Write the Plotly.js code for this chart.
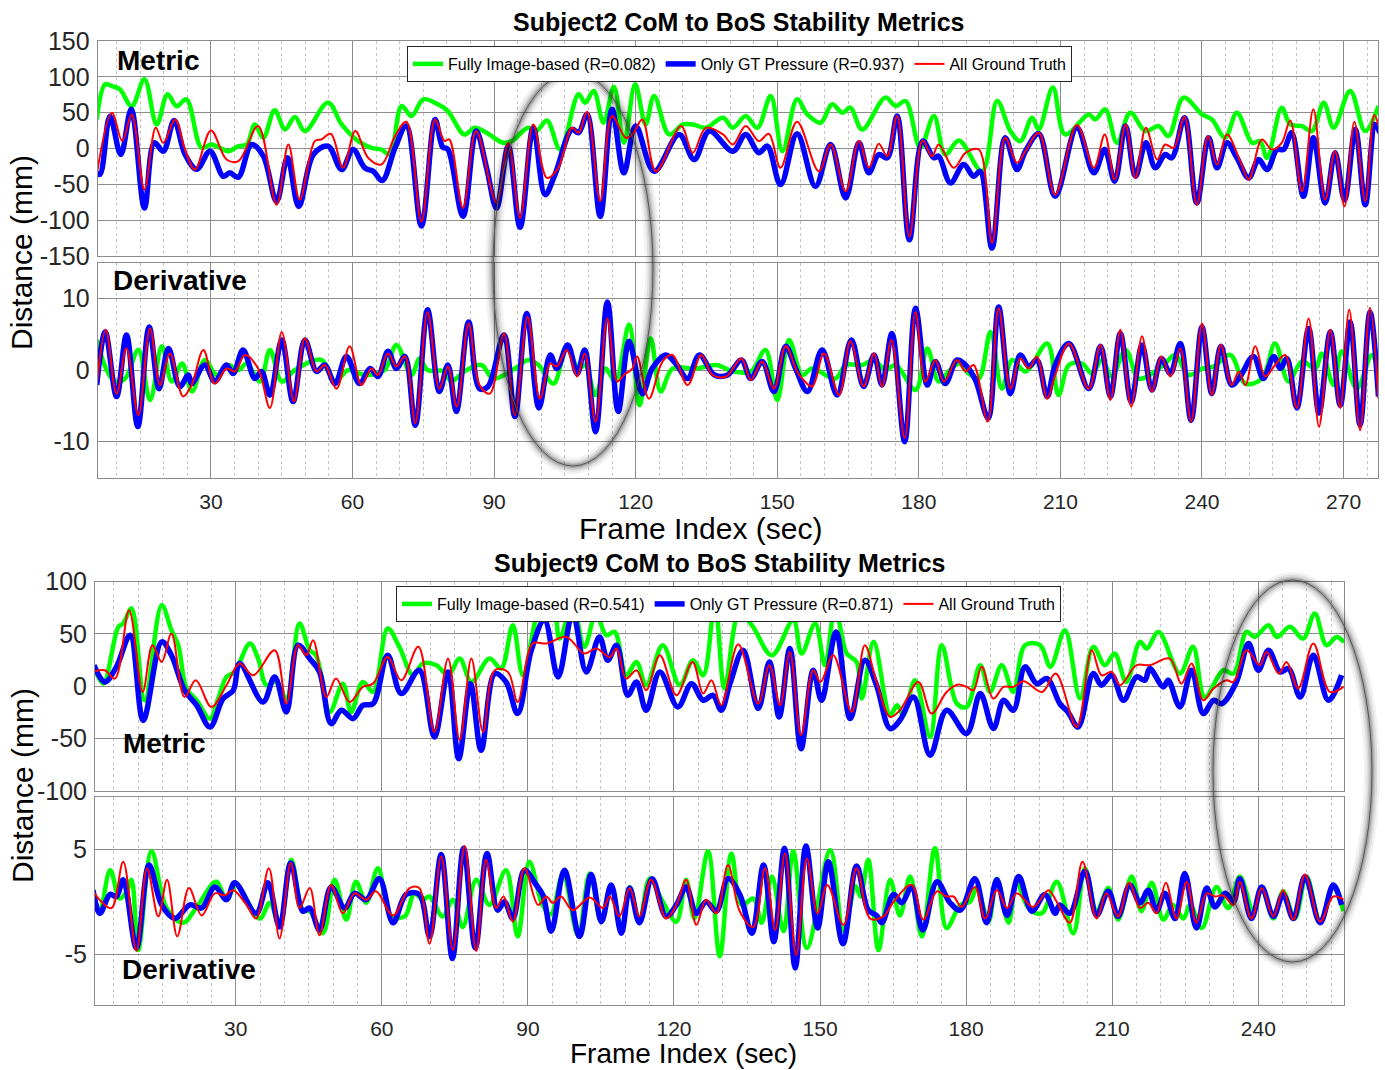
<!DOCTYPE html>
<html><head><meta charset="utf-8">
<script src="https://cdn.plot.ly/plotly-3.0.1.min.js"></script>
<style>html,body{margin:0;padding:0;background:#fff;}#chart{width:1385px;height:1070px;}</style>
</head><body><div id="chart"></div>
<script>
// ---------- DATA (x = frame index, y = value) ----------
const names = ["Fully Image-based", "Only GT Pressure", "All Ground Truth"];
const s2R = ["0.082", "0.937"];
const s9R = ["0.541", "0.871"];
const titles = ["Subject2 CoM to BoS Stability Metrics", "Subject9 CoM to BoS Stability Metrics"];
const xTicks2 = [30,60,90,120,150,180,210,240,270];
const xTicks9 = [30,60,90,120,150,180,210,240];

// Subject2 metric
const s2MetricImg = [[5.8,40.6],[7.6,89.7],[9.0,87],[10.7,82.7],[13.2,59],[15.9,96.7],[18.5,33.6],[20.8,75.7],[22.7,59],[24.8,68.6],[28.0,1],[30.1,5.6],[33.7,-3.7],[35.8,3.3],[37.6,5.6],[39.3,33.6],[41.1,15],[43.5,53.2],[45.7,26.6],[47.8,43.9],[49.9,24.3],[54.8,64],[57.7,33.6],[61.2,10.3],[64.0,1],[66.1,-1.4],[67.9,-8.4],[70.4,59.3],[72.5,45.3],[75.0,68.6],[78.1,61.6],[80.2,52.3],[83.7,19.6],[85.9,29],[88.4,22],[91.9,8],[93.7,10.3],[97.2,29],[99.0,24.3],[101.2,39.2],[104.0,-1.4],[107.9,75.7],[109.3,64],[111.1,80.3],[113.2,36],[115.4,86],[117.5,8],[119.9,89.7],[122.1,33.6],[123.9,73.3],[127.1,19.6],[130.0,33.6],[132.1,33.6],[134.9,29],[138.5,43],[140.6,29],[143.3,45.3],[145.8,29],[148.6,73.3],[151.1,-3.7],[154.2,68.6],[156.4,47.6],[159.2,36],[161.6,61.6],[163.8,50],[165.5,57],[168.0,26.6],[172.9,71],[175.1,59.3],[177.2,66.3],[180.3,1],[183.2,45.3],[185.6,-8.4],[188.5,11.2],[193.4,-31.8],[196.6,66.3],[199.4,24.3],[201.5,10.3],[204.0,43],[205.4,26.6],[208.4,85],[211.0,19.6],[216.0,47.6],[217.4,40.6],[219.5,54.6],[222.0,8],[224.8,50],[228.0,24.3],[230.8,31.3],[232.9,17.3],[236.1,71],[240.0,47.6],[242.1,40.6],[244.9,15],[247.4,50],[250.6,8],[252.3,10.3],[253.8,-13],[256.9,57],[258.7,33.6],[261.2,31.3],[263.3,24.3],[265.8,64],[267.9,29],[271.4,80.3],[274.6,24.3],[277.4,59.3]];
const s2MetricPress = [[5.8,-34],[6.5,-36],[8.6,45],[10.9,-8.4],[13.1,54.6],[15.9,-83],[18.0,8],[19.9,-3.7],[22.2,39],[24.5,-8],[27.0,-29],[29.8,-3.7],[32.6,-38.8],[34.0,-34],[35.8,-40],[38.6,5.6],[41.1,-10.7],[43.9,-73.8],[46.2,-13],[48.6,-80.8],[51.7,-8.4],[54.8,3.3],[57.7,-29.4],[60.1,-1.4],[62.6,-27],[64.4,-31.8],[66.3,-44.8],[69.0,1],[71.4,31.3],[74.6,-108],[77.5,40.6],[79.1,2],[80.2,-1],[83.4,-94.8],[86.2,24.3],[88.4,-27],[90.5,-83],[93.0,3.3],[95.5,-110],[98.3,29],[100.8,-64.4],[102.9,-36.4],[106.5,26.6],[107.9,22],[109.7,47.6],[112.5,-94.8],[115.0,54.6],[117.5,-34],[120.0,31.3],[123.9,-31.8],[129.2,19.6],[132.4,-15.4],[135.6,24.3],[140.6,-3.7],[143.3,19.6],[146.1,-6],[147.9,3.3],[150.7,-50.4],[154.2,20.5],[158.1,-52.8],[161.3,5.6],[164.5,-69],[167.3,8],[169.4,-34],[171.5,-8.4],[173.3,-13],[175.4,45.3],[178.0,-127.5],[180.8,10.3],[183.2,-13],[184.2,-10.7],[186.7,-48],[189.5,-22.4],[191.6,-38.8],[193.0,-31.8],[195.5,-139],[198.3,15],[200.8,-29.4],[202.6,-3.7],[205.4,20.5],[208.9,-66.8],[213.5,29],[217.1,-34],[219.4,-1.4],[221.5,-45.8],[223.8,31.3],[225.9,-38.8],[228.1,8],[230.1,-27],[232.2,-8.4],[233.6,-13],[236.3,43],[238.9,-76],[241.4,15],[243.2,-27],[245.3,8],[247.4,-13],[249.9,-41],[252.0,-15.4],[253.8,-29.4],[255.9,-1.4],[257.3,-1.4],[259.0,22],[261.5,-66.8],[263.6,15],[266.1,-76],[268.2,-6],[270.2,-71.5],[272.5,26.6],[274.6,-78.5],[276.7,33.6],[277.7,22]];
const s2MetricGT = [[5.8,-36],[9.0,50],[11.2,10.3],[13.2,47.6],[15.9,-57.4],[18.3,29],[19.9,8],[22.4,40.6],[24.5,-1.4],[26.6,-29.4],[30.0,25.2],[33.3,-15.4],[35.8,-17.7],[40.0,31.3],[43.9,-78.5],[46.4,5.6],[48.8,-71.5],[52.0,10.3],[53.4,12.6],[55.4,20.5],[58.0,-27],[60.6,24.3],[63.3,-13],[66.1,-22.4],[69.0,17.3],[71.4,37.4],[74.6,-102],[77.5,40.6],[79.5,10.3],[80.5,12.6],[83.4,-83],[86.2,24.3],[90.5,-76],[93.0,8],[95.5,-97],[98.3,33.6],[101.2,-41],[103.6,-27],[106.5,29],[107.9,22],[109.7,51.4],[112.5,-73.8],[115.0,45.3],[117.9,15],[119.3,19.6],[121.4,40.6],[124.3,-31.8],[129.6,31.3],[132.1,-6],[134.9,29],[138.5,19.6],[140.6,5.6],[143.3,31.3],[146.1,10.3],[148.2,20.5],[150.7,-27],[154.2,37.4],[158.8,-31.8],[161.3,5.6],[164.5,-59.8],[167.3,10.3],[169.4,-27],[171.5,6.5],[173.3,-10.7],[175.4,45.3],[178.0,-122.8],[180.8,11.2],[182.8,-10.7],[184.2,5.6],[187.4,-27],[189.9,-6],[192.7,-1.4],[195.5,-132],[198.3,15],[200.8,-20],[202.6,-3.7],[205.4,22],[208.9,-64.4],[213.5,32.7],[217.1,-27],[219.4,19.6],[221.5,-43.4],[223.8,33.6],[225.9,-41],[228.1,29],[230.5,-15.4],[232.2,5.6],[234.0,0.9],[236.3,43.9],[238.9,-78.5],[241.3,17.3],[243.2,-22.4],[245.3,19.6],[248.1,-17.7],[249.9,-43.4],[252.7,12.6],[254.8,-1.4],[256.9,7.9],[258.7,39.2],[261.2,-59.8],[263.6,54.6],[266.1,-71.5],[268.2,-3.7],[270.2,-80.8],[272.3,37.4],[274.6,-73.8],[276.5,46.7],[277.7,24.3]];

// Subject2 derivative
const s2DerivImg = [[5.8,4.2],[7.9,0],[9.7,-1.6],[11.8,-1.2],[14.6,2.8],[17.1,-4.2],[19.6,3.3],[21.7,-1.6],[23.9,0.9],[26.0,-3],[28.7,1.4],[31.2,-0.7],[33.7,0.7],[35.8,0],[37.6,0.9],[40.4,-1.6],[42.5,2.8],[45.0,-1.6],[47.8,0],[53.4,1.4],[56.3,-1.6],[59.1,0],[62.6,-0.7],[66.8,0],[69.3,3.5],[72.5,-0.7],[74.2,1.6],[75.9,0],[79.5,-0.2],[80.9,-1.6],[83.7,-0.2],[87.3,0.7],[89.8,-1.2],[94.4,0.2],[97.2,1.4],[99.4,0.7],[102.6,-1.9],[105.4,3],[107.9,0.2],[109.3,0.7],[111.5,-3.5],[113.6,0.2],[115.7,-1.6],[118.6,6.3],[120.8,-4.9],[123.2,4.4],[125.3,-3],[127.8,0.2],[132.8,0.2],[137.1,0.7],[140.6,-0.2],[144.4,-0.2],[147.5,2.8],[150.0,-4.2],[152.5,4.2],[155.3,-0.7],[157.4,0.2],[162.3,-1.2],[164.5,0.7],[168.0,0.7],[170.5,1.4],[172.9,0],[175.1,0.7],[179.3,-2.8],[181.8,3],[184.2,-1.6],[186.3,-0.2],[188.5,0.9],[190.6,-0.5],[192.7,-1.2],[195.2,5.3],[197.6,-2.6],[199.8,1.4],[202.6,-0.2],[207.2,3.7],[209.6,-3.5],[211.8,0.7],[214.6,0.9],[216.7,-0.5],[218.8,1.4],[220.9,-0.9],[223.8,2.8],[226.6,-1.2],[229.4,-0.5],[232.2,0.9],[234.3,2.1],[237.2,-0.7],[240.0,0.2],[242.5,0.5],[246.0,2.1],[249.2,-1.9],[252.7,-1.2],[255.5,3.7],[258.3,-1.6],[261.2,1.2],[264.0,0.2],[265.4,2.3],[267.9,-2.1],[269.6,2.6],[272.8,-2.6],[276.0,2.1],[277.4,-0.2]];
const s2DerivPress = [[5.8,-2.1],[7.6,5.3],[10.0,-3.7],[12.1,4.9],[14.5,-7.9],[16.9,6],[19.0,-2.6],[21.0,3],[23.4,-2.3],[25.2,-0.7],[25.9,-1.9],[28.7,0.7],[30.8,-1.6],[33.3,0.7],[34.7,-0.5],[36.8,2.8],[39.3,-1.2],[40.7,-0.2],[42.5,-3.5],[45.0,4.2],[47.4,-4.4],[49.9,4.2],[52.4,-0.2],[54.1,0.7],[56.3,-1.9],[58.7,1.9],[61.5,-1.9],[63.7,0.2],[65.4,-0.9],[67.5,2.6],[69.3,0.2],[71.1,1.9],[73.3,-7.7],[75.9,8.4],[78.4,-3],[80.2,0.7],[82.0,-5.8],[84.6,6.7],[86.9,-2.6],[88.7,-2.3],[92.1,4.9],[94.4,-6.5],[96.9,7.9],[99.5,-5.3],[101.9,2.1],[103.3,0.2],[105.6,3.5],[107.6,-0.5],[109.2,2.8],[111.5,-8.6],[114.0,9.5],[116.3,-5.8],[118.6,4],[121.4,-3.3],[123.5,0.2],[126.4,2.1],[128.5,0.9],[131.0,-1.2],[133.5,2.1],[136.7,-0.7],[139.5,-0.7],[142.4,1.4],[144.4,-1.2],[146.8,1.2],[149.3,-3],[151.8,3.3],[153.9,0.2],[156.4,-3],[159.5,2.8],[162.7,-3.5],[165.7,4.2],[168.3,-2.3],[170.5,2.1],[172.2,-2.1],[174.3,5.1],[177.0,-10],[179.3,8.6],[181.8,-2.1],[183.5,1.2],[185.6,-1.9],[188.1,1.4],[189.9,0.7],[192.0,-1.4],[194.7,-6.7],[196.9,8.8],[199.4,-3.3],[201.5,2.1],[203.3,0.5],[205.0,1.4],[207.2,-3.7],[208.9,0.7],[211.8,3.7],[216.0,-2.6],[218.5,3.3],[220.6,-3.7],[222.7,5.1],[225.0,-4.4],[227.3,3.5],[229.4,-2.8],[231.4,1.6],[233.3,-0.5],[235.4,3.7],[237.7,-7],[240.0,6],[242.1,-3.3],[244.0,3.3],[246.3,-2.1],[248.1,-0.9],[250.9,1.9],[253.0,-1.2],[255.2,1.9],[256.6,0.2],[258.0,1.6],[260.1,-5.3],[262.6,5.8],[264.8,-6],[267.2,5.3],[269.3,-4.9],[271.4,6.7],[273.5,-7.7],[275.6,8.1],[277.4,-3.7]];
const s2DerivGT = [[5.8,-2.1],[7.7,5.6],[10.0,-3.3],[12.1,3],[14.6,-6.3],[17.1,5.8],[19.2,-2.1],[21.3,2.3],[24.1,-3.7],[25.9,-2.1],[28.4,2.8],[30.8,-1.9],[33.3,0.2],[35.1,-0.2],[37.2,2.1],[40.0,0.2],[42.5,-5.3],[45.0,5.3],[47.6,-4.4],[49.9,4.4],[52.4,-0.2],[54.1,0.7],[56.6,-2.6],[59.4,3.3],[61.9,-2.1],[64.0,0.2],[65.4,-0.7],[67.5,2.3],[69.3,0.5],[71.1,1.9],[73.3,-7.4],[75.9,8.1],[78.4,-2.6],[80.2,0.5],[82.1,-5.1],[84.6,6.5],[86.9,-2.1],[89.1,-3.3],[92.1,5.1],[94.4,-6.3],[97.1,7.4],[99.7,-4],[101.9,0.9],[103.3,0.5],[105.4,2.8],[107.6,-0.9],[109.2,2.3],[111.5,-7.2],[114.0,7.2],[116.1,-1.6],[117.5,-0.7],[119.3,0.2],[120.3,1.9],[122.8,-4],[125.7,1.2],[127.8,2.1],[131.0,-2.1],[133.9,2.1],[136.3,-0.7],[139.2,-0.9],[142.4,1.6],[144.4,-1.4],[146.8,1.2],[149.3,-2.6],[151.8,3.3],[154.2,-0.2],[155.3,-1.2],[157.4,-2.3],[159.9,2.3],[163.1,-3.5],[165.5,4],[168.3,-2.3],[170.5,2.3],[172.2,-2.3],[174.2,4.2],[177.0,-9.5],[179.3,8.1],[181.4,-1.6],[183.5,1.4],[185.3,-1.6],[188.1,1.4],[189.9,-0.2],[191.6,0.7],[194.6,-7.2],[196.9,8.6],[199.4,-2.6],[201.5,1.6],[203.3,0.2],[205.0,1.9],[207.2,-4],[208.9,-0.7],[211.8,3.7],[216.0,-2.6],[218.5,3.5],[220.6,-4.2],[222.7,5.6],[225.0,-5.1],[227.3,4.7],[229.4,-3],[231.4,1.9],[233.3,-0.9],[235.4,3],[237.7,-7.2],[240.0,6.5],[242.1,-3.5],[244.0,3.5],[246.3,-2.1],[247.8,-0.2],[249.2,-2.1],[251.3,3.3],[253.4,-0.9],[255.5,0.7],[257.6,2.1],[260.1,-5.3],[262.6,7.2],[264.8,-7.9],[267.2,5.6],[269.3,-5.3],[271.2,8.4],[273.5,-8.4],[275.6,8.7],[277.4,-4]];

// Subject9 metric
const s9MetricImg = [[0.9,18.5],[2.8,2.5],[5.9,56.7],[6.9,60],[8.6,74.2],[11.3,-13.4],[14.8,77.4],[16.8,53.5],[18.2,39.2],[19.9,-2.2],[22.0,-13.4],[24.7,-30.9],[26.4,-11.8],[28.1,8.9],[29.8,13.7],[32.9,40.8],[34.6,26.4],[36.3,1],[38.3,4.1],[40.4,-11.8],[43.1,59.9],[45.2,34.4],[46.5,29.6],[49.3,-24.5],[52.0,2.5],[53.7,-24.5],[56.1,4.1],[58.2,-5.4],[61.2,55.1],[63.6,37.6],[66.4,10.5],[68.4,21.7],[71.2,20.1],[73.6,10.5],[76.0,26.4],[78.4,4.1],[82.1,26.4],[84.5,16.9],[86.9,58.3],[89.0,10.5],[92.7,75.8],[95.1,77.1],[96.5,45.5],[99.2,77.1],[101.6,37.6],[104.0,69.4],[106.1,48.7],[107.8,51.9],[110.2,10.5],[112.3,23.2],[114.3,1],[117.7,39.2],[121.2,1],[123.9,24.8],[126.0,10.5],[128.4,79],[130.4,-2.2],[133.4,69.4],[136.0,58.3],[140.1,29.6],[144.5,63.1],[146.2,31.2],[149.0,59.9],[151.0,20.1],[153.1,74.2],[155.5,31.2],[157.5,23.2],[158.6,-11.8],[161.0,42.4],[164.4,-27.7],[165.8,-18.2],[167.1,-27.7],[169.5,5.7],[172.6,-48.4],[175.0,39.2],[178.1,-16.6],[180.1,-19.7],[182.9,20.1],[184.9,-5.4],[187.3,20.1],[189.7,-5.4],[192.1,39.2],[195.2,39.2],[197.3,18.5],[200.3,53.5],[203.4,-11.8],[206.1,37.6],[208.5,20.1],[210.5,31.2],[212.9,4.1],[215.7,42.4],[217.1,36],[219.5,51.9],[223.9,12.1],[226.6,37.6],[229.0,-10.2],[232.8,15.3],[234.9,12.1],[237.6,51.9],[239.3,47.1],[242.1,58.3],[243.8,47.1],[246.5,56.7],[249.2,45.5],[251.6,69.4],[254.0,39.2],[256.1,47.1],[257.6,42]];
const s9MetricPress = [[0.9,20.1],[3.1,4.1],[5.5,18.5],[8.3,48.7],[11.0,-32.5],[14.8,42.4],[16.8,29.6],[19.5,-3.8],[22.0,-18.2],[24.7,-38.9],[27.4,-11.8],[29.5,-3.8],[30.8,21.7],[35.6,-15],[38.0,8.9],[40.4,-24.5],[42.8,39.2],[45.2,26.4],[47.2,13.7],[49.6,-35.7],[51.7,-22.9],[54.1,-30.9],[56.1,-18.2],[58.2,-16.6],[61.2,29.6],[64.0,-7],[67.7,15.3],[70.8,-48.4],[73.6,13.7],[75.8,-69.1],[78.2,2.5],[80.4,-61.1],[83.2,12.1],[85.5,4.1],[87.9,-26.1],[90.7,34.4],[93.4,63.1],[96.2,8.9],[99.2,69.4],[102.0,13.7],[104.7,47.1],[106.4,24.8],[108.2,39.2],[110.5,-8.6],[112.3,4.1],[114.3,-22.9],[117.1,13.7],[120.8,-19.7],[123.6,2.5],[126.0,-13.4],[128.0,-8.6],[129.7,-22.9],[131.5,2.5],[134.2,34.4],[137.3,-21.3],[139.6,23.2],[141.6,-29.3],[143.8,36],[146.1,-59.6],[148.6,15.3],[150.3,-13.4],[153.3,51.9],[156.2,-30.9],[159.2,24.8],[161.6,1],[164.4,-40.4],[166.4,-32.5],[169.2,-10.2],[172.6,-65.9],[176.0,-22.9],[180.1,-45.2],[182.9,-7],[185.6,-40.4],[187.7,-13.4],[189.7,-22.9],[192.1,18.5],[194.5,2.5],[196.6,7.3],[199.3,-17],[200.9,-24.5],[203.0,-38.9],[206.1,12.1],[207.8,1],[209.9,10.5],[212.3,-13.4],[215.0,8.9],[216.7,5.7],[217.7,16.9],[220.5,-0.6],[221.5,5.7],[223.9,-19.7],[226.3,15.3],[228.7,-26.1],[230.8,-13.4],[232.5,-16.6],[235.5,4.1],[238.0,40.8],[240.0,15.3],[242.1,34.4],[244.5,13.7],[246.2,16.9],[248.6,-10.2],[251.3,29.6],[254.4,-13.4],[257.1,10.5]];
const s9MetricGT = [[0.7,13.7],[3.1,15.3],[5.2,7.3],[8.1,72.6],[10.9,-5.4],[12.9,39.2],[14.8,23.2],[16.8,50.3],[19.5,-10.2],[21.8,5.7],[25.0,-19.7],[28.1,1],[30.8,21.7],[33.6,10.5],[38.0,34.4],[40.4,-16.6],[42.8,39.2],[44.5,29.6],[45.9,43.9],[48.6,-10.2],[50.6,7.3],[53.4,-15],[56.1,-0.6],[58.2,2.5],[61.2,28],[64.0,5.7],[67.5,37.6],[70.8,-43.6],[73.6,26.4],[76.0,-51.6],[78.4,26.4],[80.8,-43.6],[83.2,15.3],[85.9,13.7],[87.9,-15],[91.0,40.8],[93.8,40.8],[97.9,47.1],[101.6,31.2],[104.0,36],[106.8,28],[108.2,36],[110.2,7.3],[112.3,15.3],[114.3,-3.8],[117.1,29.6],[120.5,-8.6],[123.8,23.2],[126.0,-7],[127.7,5.7],[129.7,-18.2],[133.2,40],[137.3,-16.6],[139.6,20.1],[141.8,-18.2],[143.8,32.8],[146.1,-46.8],[148.6,15.3],[150.1,4.1],[152.7,29.6],[156.5,-24.5],[159.2,39.2],[161.6,4.1],[164.4,-29.3],[166.4,-22.9],[170.2,4.1],[172.9,-26.1],[176.0,-5.4],[178.4,1.6],[180.1,-0.6],[181.5,-3.8],[183.2,18.5],[185.6,-11.8],[187.7,-0.6],[189.7,-0.6],[191.8,4.8],[195.6,-5.4],[198.4,12.1],[202.7,-38.9],[205.8,34.4],[207.8,10.5],[209.9,13.7],[211.6,1],[215.0,20.1],[217.7,20.1],[221.8,26.4],[224.2,2.5],[226.3,21.7],[228.7,-13.4],[230.8,-2.2],[233.5,5.7],[234.9,4.1],[237.6,34.4],[240.3,20.1],[241.7,32.8],[244.2,12.1],[245.8,23.2],[248.2,-2.2],[251.3,40.8],[254.7,-5.4],[257.5,-0.6]];

// Subject9 derivative
const s9DerivImg = [[0.7,1],[2.1,-0.9],[4.2,3],[6.2,0.3],[7.6,1],[8.6,2.1],[10.0,-4.6],[12.7,4.8],[15.8,-0.6],[19.2,-2],[22.0,-0.5],[26.0,1.9],[28.1,0.2],[30.1,1.6],[34.9,-1.6],[37.0,-0.1],[39.0,-2.2],[41.4,4],[43.8,-0.8],[45.2,-0.9],[47.9,-3],[50.3,2.1],[52.7,-1.7],[54.7,1.9],[56.8,-0.1],[59.2,3.2],[61.9,-1.3],[64.7,-1.4],[66.7,0.8],[68.4,0.2],[69.8,0.5],[72.5,-1.4],[74.6,0.2],[76.6,-2.4],[79.4,2.1],[82.1,-0.3],[85.5,3],[87.9,-3.3],[90.3,3.8],[93.0,-0.3],[94.7,-1.2],[97.2,2.6],[100.3,-3.2],[102.7,2.7],[105.1,-1.9],[107.1,1.6],[109.2,-2.8],[110.9,1.4],[112.9,-1.9],[115.0,2.2],[117.7,0],[120.5,-1.9],[122.5,2.1],[124.2,-1.6],[127.0,4.8],[129.4,-5.2],[131.8,4.6],[133.9,-0.3],[136.3,0.3],[138.0,-2],[140.1,2.4],[142.5,-2.8],[144.5,4.8],[147.3,-4.4],[152.1,4.9],[154.8,-2.8],[157.3,1.5],[158.3,0.5],[159.9,4],[162.0,-4.6],[164.4,2.1],[166.4,-1.3],[168.5,2.4],[170.9,-3.3],[173.6,5.1],[176.0,-2.5],[178.8,-0.3],[180.8,0],[182.2,1.3],[184.6,-1.9],[186.3,2.2],[188.7,-2],[190.4,1.8],[192.8,-0.6],[195.5,-1.1],[198.6,1.9],[202.0,-3],[204.4,3.2],[206.8,-0.9],[209.2,1.3],[211.2,-1.7],[214.0,2.4],[216.0,-0.9],[218.1,1.8],[220.5,-1.7],[222.5,-0.3],[224.6,-1.6],[226.0,-0.3],[228.4,-2.5],[231.4,1.4],[233.8,-0.6],[236.2,2.4],[239.0,-0.9],[240.7,1.4],[243.1,-1.6],[245.1,1],[247.5,-1.6],[249.9,2.4],[252.7,-1.9],[255.4,1.4],[257.5,-0.9]];
const s9DerivPress = [[0.7,1.1],[2.1,-1.1],[4.2,0.7],[5.5,0.5],[6.9,2.1],[9.6,-4.4],[12.2,3.5],[14.8,-0.3],[17.5,-1.6],[20.6,-0.3],[23.0,-0.6],[25.7,1.4],[28.1,0.2],[29.8,1.8],[34.2,-1.1],[36.6,1.8],[39.0,-2.4],[41.3,3.7],[43.8,-0.9],[45.2,-0.6],[47.2,-2.7],[49.6,1.4],[52.4,-0.6],[54.4,0.8],[56.8,0.2],[59.5,2.2],[62.3,-2],[65.0,0.7],[67.7,0.7],[69.8,-3.3],[72.2,4.5],[74.5,-5.4],[76.8,5.1],[79.2,-4.4],[81.6,4.6],[83.8,-0.8],[85.2,0],[86.9,-1.6],[89.3,3],[91.7,1.6],[93.1,0.6],[94.8,-2.8],[97.5,3],[100.6,-3.3],[103.0,2.6],[105.1,-1.9],[107.1,1.6],[109.2,-3],[110.9,1.3],[112.9,-2],[115.5,2.2],[118.4,-1.4],[120.5,-0.3],[122.5,1.4],[124.6,-1.1],[126.6,0],[128.7,-0.9],[131.1,2.2],[133.6,0.6],[136.0,-3],[138.4,3.5],[140.5,-3.8],[142.7,5.1],[144.9,-6.3],[147.1,5.3],[149.5,-2.5],[151.7,3.8],[154.7,-4],[157.5,3.4],[159.9,-0.8],[161.6,-1.3],[162.7,-2],[165.1,0.7],[166.8,-0.1],[168.8,1.4],[171.1,-2.7],[174.0,1.9],[176.7,-0.1],[178.8,-0.8],[181.8,2.2],[184.2,-2],[186.3,2.1],[188.4,-1.3],[190.8,2.4],[193.5,-0.9],[196.2,0.7],[198.3,-1.1],[199.2,-0.3],[201.3,-1.1],[204.4,2.9],[206.8,-1.3],[209.2,1],[211.2,-1.4],[213.6,1.6],[215.7,-0.1],[217.4,1.1],[219.1,-0.9],[220.8,0.8],[222.9,-1.6],[224.9,2.7],[227.3,-2.5],[229.4,1.3],[231.1,-0.5],[233.2,0.8],[234.9,0],[236.2,2.2],[238.6,-1.6],[240.7,1.4],[243.1,-1.4],[245.1,0.7],[247.2,-1.6],[249.6,2.4],[252.7,-2],[255.4,1.6],[257.1,-0.3]];
const s9DerivGT = [[0.7,1],[2.4,0],[4.5,-0.6],[6.9,3.8],[9.6,-4.7],[11.8,3.2],[14.1,-1.4],[15.9,2.1],[18.0,-3.3],[20.4,1.3],[23.0,-1.3],[25.7,0.8],[27.7,0.6],[29.5,1.1],[32.2,-0.3],[34.2,-1.6],[36.8,3.2],[39.0,-3.5],[41.3,3.7],[43.1,-0.6],[45.2,1.3],[47.2,-3.2],[49.6,1.6],[52.0,-1.1],[54.4,0.8],[56.8,0.2],[58.8,1],[62.3,-1.3],[65.7,1.3],[67.7,1.3],[69.8,-4],[72.2,4.3],[74.6,-4.6],[77.0,5.3],[79.4,-4.7],[81.4,4],[83.5,-0.6],[85.0,0.5],[86.9,-1.9],[89.3,3.2],[92.1,-0.3],[93.8,0.5],[95.1,-0.1],[96.8,0.5],[99.2,-0.8],[102.7,0.4],[105.4,-0.6],[106.8,0.5],[108.8,-1.4],[110.9,1.3],[112.9,-1.4],[115.3,2.1],[118.4,-1.6],[120.5,-0.3],[122.5,2.1],[124.6,-2.2],[126.6,0.2],[128.7,-1.1],[131.1,3.5],[133.5,-0.9],[136.3,-2.4],[138.7,3.2],[140.8,-2.7],[142.8,4.6],[145.1,-5.1],[147.3,4.1],[149.5,-1.1],[151.5,1.6],[154.8,-2.2],[157.5,3.2],[160.3,-1.6],[163.0,-1.4],[165.1,0],[168.8,1.6],[171.2,-1.7],[174.0,1],[176.0,0.5],[177.4,0.5],[179.1,-0.5],[181.8,1.4],[183.9,-1.6],[186.3,1.1],[188.4,-0.6],[190.4,0.8],[193.8,-0.5],[196.9,1.1],[198.6,0],[201.3,-2],[203.9,3.8],[206.8,-1.6],[208.8,0.8],[211.2,-1.4],[213.5,1.8],[215.7,-0.6],[217.4,-0.1],[219.1,-1.1],[221.0,1.8],[223.2,-1.6],[225.3,1.9],[227.3,-2],[229.4,0.8],[231.1,0.5],[232.8,0.6],[234.9,-0.3],[236.2,1.9],[238.6,-1.6],[240.7,1.3],[243.1,-1.4],[245.1,1.1],[247.2,-1.7],[249.6,2.6],[252.7,-1.9],[255.4,0.5],[257.5,0.2]];

// ---------- LAYOUT HELPERS ----------
const W = 1385, H = 1070;
const px = v => v / W;
const py = v => 1 - v / H;
const FONT = 'Liberation Sans, Arial, Helvetica, sans-serif';
const colors = ['#00ff00', '#0000ff', '#ff0000'];
const widths = [4.5, 5.5, 2];

function trace(pairs, k, xa, ya, label, legendId, show) {
  return {
    type: 'scatter', mode: 'lines',
    x: pairs.map(p => p[0]), y: pairs.map(p => p[1]),
    xaxis: xa, yaxis: ya,
    line: {color: colors[k], width: widths[k], shape: 'spline', smoothing: 1},
    name: label, legend: legendId, showlegend: show, hoverinfo: 'skip'
  };
}

const lab2 = [names[0] + ' (R=' + s2R[0] + ')', names[1] + ' (R=' + s2R[1] + ')', names[2]];
const lab9 = [names[0] + ' (R=' + s9R[0] + ')', names[1] + ' (R=' + s9R[1] + ')', names[2]];

const data = [
  trace(s2MetricImg, 0, 'x', 'y', lab2[0], 'legend', true),
  trace(s2MetricPress, 1, 'x', 'y', lab2[1], 'legend', true),
  trace(s2MetricGT, 2, 'x', 'y', lab2[2], 'legend', true),
  trace(s2DerivImg, 0, 'x2', 'y2', lab2[0], 'legend', false),
  trace(s2DerivPress, 1, 'x2', 'y2', lab2[1], 'legend', false),
  trace(s2DerivGT, 2, 'x2', 'y2', lab2[2], 'legend', false),
  trace(s9MetricImg, 0, 'x3', 'y3', lab9[0], 'legend2', true),
  trace(s9MetricPress, 1, 'x3', 'y3', lab9[1], 'legend2', true),
  trace(s9MetricGT, 2, 'x3', 'y3', lab9[2], 'legend2', true),
  trace(s9DerivImg, 0, 'x4', 'y4', lab9[0], 'legend2', false),
  trace(s9DerivPress, 1, 'x4', 'y4', lab9[1], 'legend2', false),
  trace(s9DerivGT, 2, 'x4', 'y4', lab9[2], 'legend2', false)
];

const tickFont = {family: FONT, size: 21, color: '#262626'};
function xAxis(domain, range, ticks, anchor, showLabels, standoff) {
  return {
    domain: domain, range: range, anchor: anchor,
    tickmode: 'array', tickvals: ticks, ticktext: ticks.map(String),
    showticklabels: showLabels, tickfont: tickFont, ticks: '', ticklabelstandoff: standoff,
    showgrid: true, gridcolor: '#8c8c8c', gridwidth: 1,
    minor: {tickmode: 'linear', tick0: 0, dtick: 5, showgrid: true, gridcolor: '#c4c4c4', griddash: 'dot', gridwidth: 1, ticks: ''},
    showline: true, mirror: true, linecolor: '#8c8c8c', linewidth: 1, zeroline: false, fixedrange: true
  };
}
function yAxis(domain, range, ticks, anchor) {
  return {
    domain: domain, range: range, anchor: anchor,
    tickmode: 'array', tickvals: ticks, ticktext: ticks.map(String),
    tickfont: {family: FONT, size: 25, color: '#262626'}, ticks: '', ticklabelstandoff: 2,
    showgrid: true, gridcolor: '#8c8c8c', gridwidth: 1,
    showline: true, mirror: true, linecolor: '#8c8c8c', linewidth: 1, zeroline: false, fixedrange: true
  };
}

const dTop = [px(97.7), px(1378)];
const dBot = [px(95), px(1344)];
const legendFont = {family: FONT, size: 16, color: '#000'};
const layout = {
  width: W, height: H,
  margin: {l: 0, r: 0, t: 0, b: 0},
  paper_bgcolor: '#ffffff', plot_bgcolor: '#ffffff',
  font: {family: FONT},
  xaxis: xAxis(dTop, [6, 277.3], xTicks2, 'y', false, 5),
  yaxis: yAxis([py(256), py(41)], [-150, 150], [-150, -100, -50, 0, 50, 100, 150], 'x'),
  xaxis2: xAxis(dTop, [6, 277.3], xTicks2, 'y2', true, 5),
  yaxis2: yAxis([py(477.5), py(262.5)], [-15, 15], [-10, 0, 10], 'x2'),
  xaxis3: xAxis(dBot, [1.1, 257.6], xTicks9, 'y3', false, 5),
  yaxis3: yAxis([py(791), py(581.5)], [-100, 100], [-100, -50, 0, 50, 100], 'x3'),
  xaxis4: xAxis(dBot, [1.1, 257.6], xTicks9, 'y4', true, 5),
  yaxis4: yAxis([py(1005), py(796.7)], [-9.83, 10], [-5, 5], 'x4'),
  legend: {
    x: px(407), y: py(46), xanchor: 'left', yanchor: 'top', orientation: 'h',
    bgcolor: '#ffffff', bordercolor: '#262626', borderwidth: 1,
    font: legendFont, itemwidth: 30, tracegroupgap: 0
  },
  legend2: {
    x: px(396), y: py(586), xanchor: 'left', yanchor: 'top', orientation: 'h',
    bgcolor: '#ffffff', bordercolor: '#262626', borderwidth: 1,
    font: legendFont, itemwidth: 30, tracegroupgap: 0
  },
  annotations: [],
  shapes: []
};

function ann(text, x, y, size, bold, angle) {
  layout.annotations.push({
    xref: 'paper', yref: 'paper', x: px(x), y: py(y), xanchor: 'center', yanchor: 'middle',
    text: bold ? '<b>' + text + '</b>' : text, showarrow: false, textangle: angle || 0,
    font: {family: FONT, size: size, color: '#000'}
  });
}
ann(titles[0], 738, 22, 25, true);
ann(titles[1], 719, 563, 25, true);
ann('Frame Index (sec)', 700, 529, 30, false);
ann('Frame Index (sec)', 683, 1053, 28, false);
ann('Distance (mm)', 22, 253, 30, false, -90);
ann('Distance (mm)', 22, 786, 30, false, -90);
ann('Metric', 158, 60, 28, true);
ann('Derivative', 180, 280, 28, true);
ann('Metric', 164, 743, 28, true);
ann('Derivative', 189, 969, 28, true);

function ellipse(x0, x1, y0, y1) {
  const layers = [[16, 'rgba(0,0,0,0.05)'], [11, 'rgba(0,0,0,0.08)'], [7, 'rgba(0,0,0,0.11)'], [4, 'rgba(0,0,0,0.16)'], [1, '#555555']];
  layers.forEach(l => layout.shapes.push({
    type: 'circle', xref: 'paper', yref: 'paper', layer: 'above',
    x0: px(x0), x1: px(x1), y0: py(y1), y1: py(y0),
    line: {color: l[1], width: l[0]}, fillcolor: 'rgba(0,0,0,0)'
  }));
}
ellipse(493, 653, 72, 466);
ellipse(1213, 1372, 580, 962);

Plotly.newPlot('chart', data, layout, {staticPlot: true, displayModeBar: false});
</script></body></html>
